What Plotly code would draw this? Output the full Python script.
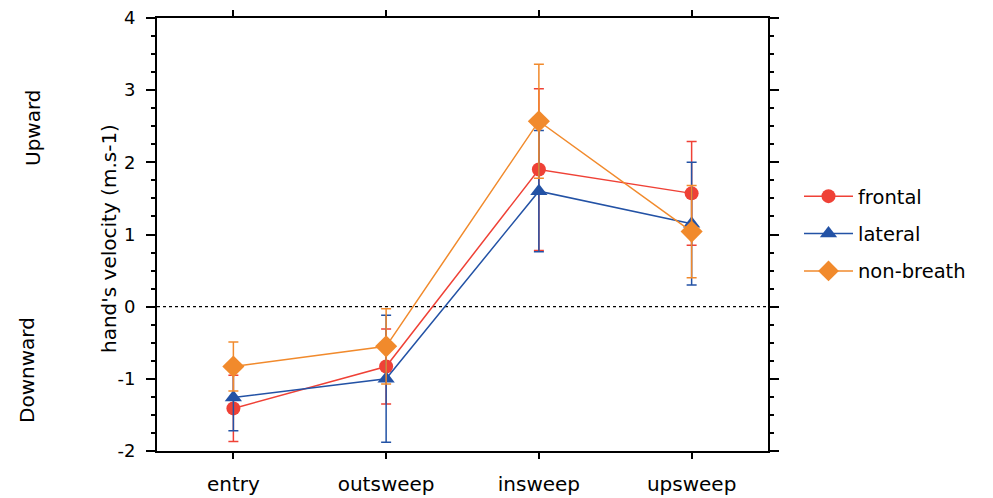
import plotly.graph_objects as go

phases = ["entry", "outsweep", "insweep", "upsweep"]
series_names = ["frontal", "lateral", "non-breath"]
frontal = [-1.41, -0.83, 1.90, 1.57]
frontal_err = [0.46, 0.52, 1.12, 0.72]
lateral = [-1.26, -1.00, 1.60, 1.15]
lateral_err = [0.46, 0.88, 0.84, 0.85]
nonbreath = [-0.83, -0.55, 2.57, 1.04]
nonbreath_err = [0.34, 0.52, 0.79, 0.64]
y_ticks = [-2, -1, 0, 1, 2, 3, 4]
y_tick_labels = ["-2", "-1", "0", "1", "2", "3", "4"]

colors = ["#EF4136", "#2352A5", "#F18A2C"]
symbols = ["circle", "triangle-up", "diamond"]
sizes = [14, 15, 17]
values = [frontal, lateral, nonbreath]
errors = [frontal_err, lateral_err, nonbreath_err]

FONT = "DejaVu Sans"
fig = go.Figure()
for i, name in enumerate(series_names):
    fig.add_trace(go.Scatter(
        x=list(range(len(phases))), y=values[i], name=name, mode="lines+markers",
        line=dict(color=colors[i], width=1.5),
        marker=dict(symbol=symbols[i], size=sizes[i], color=colors[i]),
        error_y=dict(type="data", array=errors[i], visible=True,
                     color=colors[i], thickness=1.5, width=5),
        legendgroup=name,
    ))

fig.add_shape(type="line", xref="paper", yref="y", x0=0, x1=1, y0=0, y1=0,
              line=dict(color="black", width=1.2, dash="dot"), layer="below")

axis_common = dict(showline=True, linecolor="black", linewidth=2, mirror="allticks",
                   ticks="outside", tickcolor="black", tickwidth=2, showgrid=False,
                   zeroline=False)
fig.update_xaxes(range=[-0.5, 3.5], tickvals=list(range(len(phases))), ticktext=phases,
                 ticklen=6, tickfont=dict(family=FONT, size=20, color="black"),
                 ticklabelstandoff=8, **axis_common)
fig.update_yaxes(range=[-2, 4], tickvals=y_ticks, ticktext=y_tick_labels, ticklen=9,
                 tickfont=dict(family=FONT, size=18, color="black"),
                 ticklabelstandoff=7,
                 minor=dict(dtick=0.25, ticks="outside", ticklen=4, tickcolor="black",
                            tickwidth=1.5, showgrid=False),
                 **axis_common)

pw, ph, L, B = 611, 433, 157, 47
def px(x):
    return (x - L) / pw
def py(y):
    return (498 - B - y) / ph

fig.add_annotation(text="hand's velocity (m.s-1)", xref="paper", yref="paper",
                   x=px(109), y=py(239), textangle=-90, showarrow=False,
                   xanchor="center", yanchor="middle",
                   font=dict(family=FONT, size=20, color="black"))
fig.add_annotation(text="Upward", xref="paper", yref="paper",
                   x=px(33), y=py(128), textangle=-90, showarrow=False,
                   xanchor="center", yanchor="middle",
                   font=dict(family=FONT, size=20, color="black"))
fig.add_annotation(text="Downward", xref="paper", yref="paper",
                   x=px(27), y=py(370), textangle=-90, showarrow=False,
                   xanchor="center", yanchor="middle",
                   font=dict(family=FONT, size=20, color="black"))

fig.update_layout(
    width=993, height=498,
    margin=dict(l=L, r=993 - L - pw, t=498 - B - ph, b=B, autoexpand=False),
    paper_bgcolor="white", plot_bgcolor="white",
    showlegend=True,
    legend=dict(x=px(799), y=py(234), xanchor="left", yanchor="middle",
                font=dict(family=FONT, size=19.5, color="black"),
                itemwidth=49, tracegroupgap=9, bgcolor="rgba(0,0,0,0)"),
    font=dict(family=FONT),
)

fig.write_html("out.html", config={"displayModeBar": False},
               post_script="document.body.style.margin='0px';document.body.style.overflow='hidden';")
